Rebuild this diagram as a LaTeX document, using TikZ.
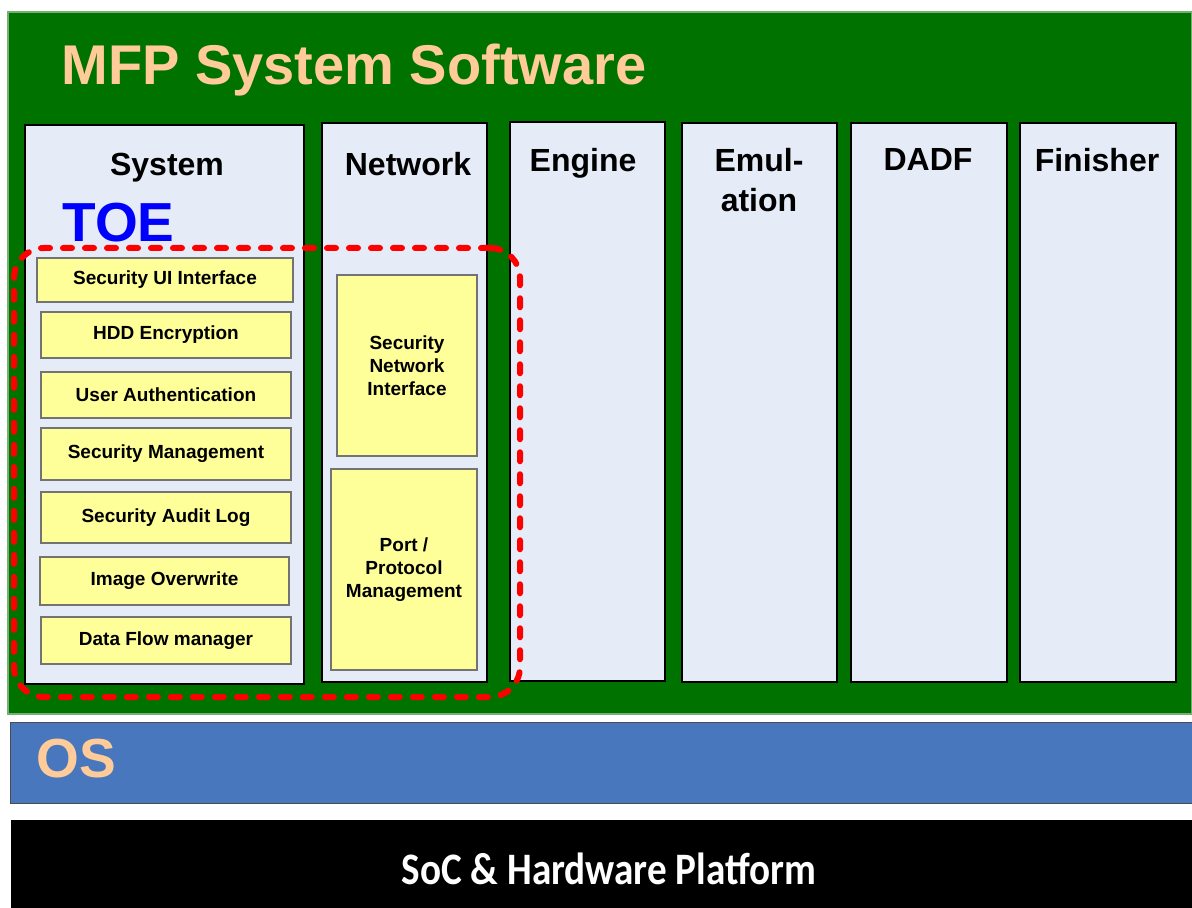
\documentclass[tikz,border=0pt]{standalone}
\usepackage{graphicx}
\usepackage{fontspec}
\setmainfont{Liberation Sans}
\newfontfamily\socfont{Carlito}
\usetikzlibrary{fit,positioning}
\definecolor{mfpgreen}{RGB}{0,114,0}
\definecolor{peach}{RGB}{255,204,153}
\definecolor{colfill}{RGB}{230,236,247}
\definecolor{boxyellow}{RGB}{255,255,153}
\definecolor{osblue}{RGB}{72,119,190}

\begin{document}
\begin{tikzpicture}[x=0.5pt,y=-0.5pt]
   \useasboundingbox (0,0) rectangle (1192,908);
   \tikzstyle{layer}=[inner sep=0, outer sep=0]
   \tikzstyle{column}=[layer, draw=black, line width=0.7pt, fill=colfill]
   \tikzstyle{func}=[layer, draw=black!55, line width=0.9pt, fill=boxyellow]
   \tikzstyle{functext}=[inner sep=0, align=center, font=\bfseries\fontsize{9.5}{11.5}\selectfont]
   \tikzstyle{head}=[inner sep=0, align=center, font=\bfseries\fontsize{16}{20}\selectfont]
   \tikzstyle{big}=[inner sep=0, font=\bfseries\fontsize{27.5}{30}\selectfont]
   % software layer
   \node[layer, fill=mfpgreen, draw=mfpgreen!55, line width=1pt, fit={(8,12) (1192,714)}] (mfp) {};
   \node[big, anchor=base west, text=peach, font=\bfseries\fontsize{28}{30}\selectfont] (mfptitle) at (61,85) {MFP System Software};
   \foreach \name/\xa/\xb/\yt/\yb in {sys/25/304/125/684, net/322/487/123/682, eng/510/665/122/681, emu/682/837/123/682, dadf/851/1007/123/682, fin/1020/1176/123/682} {
       \node[column, fit={(\xa,\yt) (\xb,\yb)}] (\name) {};
   }
   \foreach \name/\x/\y/\txt in {sys/167/176/System, net/408/176/Network, eng/583/172/Engine, emu/759/212/{Emul-\\ation}, dadf/928/171/DADF, fin/1097/172/Finisher} {
       \node[head, anchor=base] (\name-head) at (\x,\y) {\txt};
   }
   \node[big, anchor=base west, text=blue] (toe) at (62,242) {TOE};
   % TOE functions
   \foreach \i/\xa/\xb/\yt/\yb/\txt in {1/37/293/258/302/{Security UI Interface}, 2/41/291/312/358/{HDD Encryption}, 3/41/291/372/418/{User Authentication}, 4/41/291/428/480/{Security Management}, 5/41/291/492/543/{Security Audit Log}, 6/40/289/557/605/{Image Overwrite}, 7/41/291/617/664/{Data Flow manager}, 8/337/477/275/456/{Security\\Network\\Interface}, 9/331/477/469/670/{Port /\\Protocol\\Management}} {
       \node[func, fit={(\xa,\yt) (\xb,\yb)}] (f\i) {};
       \node[functext] (f\i-text) at (f\i.center) {\txt};
   }
   \node[layer, draw=red, line width=3pt, dash pattern=on 4.5pt off 6.5pt, line cap=round, rounded corners=15pt, fit={(14,248) (520,697)}] (toearea) {};
   % OS and hardware
   \node[layer, fill=osblue, draw=black!70, line width=0.5pt, fit={(10,722) (1192,803)}] (os) {};
   \node[big, anchor=base west, text=peach] (oslabel) at (36,777) {OS};
   \node[layer, fill=black, fit={(11,820) (1192,908)}] (hw) {};
   \node[inner sep=0, anchor=base, text=white, font=\socfont\bfseries\fontsize{22.5}{26}\selectfont] (hwlabel) at (609,884) {\scalebox{0.87}[1]{SoC \& Hardware Platform}};
\end{tikzpicture}
\end{document}
